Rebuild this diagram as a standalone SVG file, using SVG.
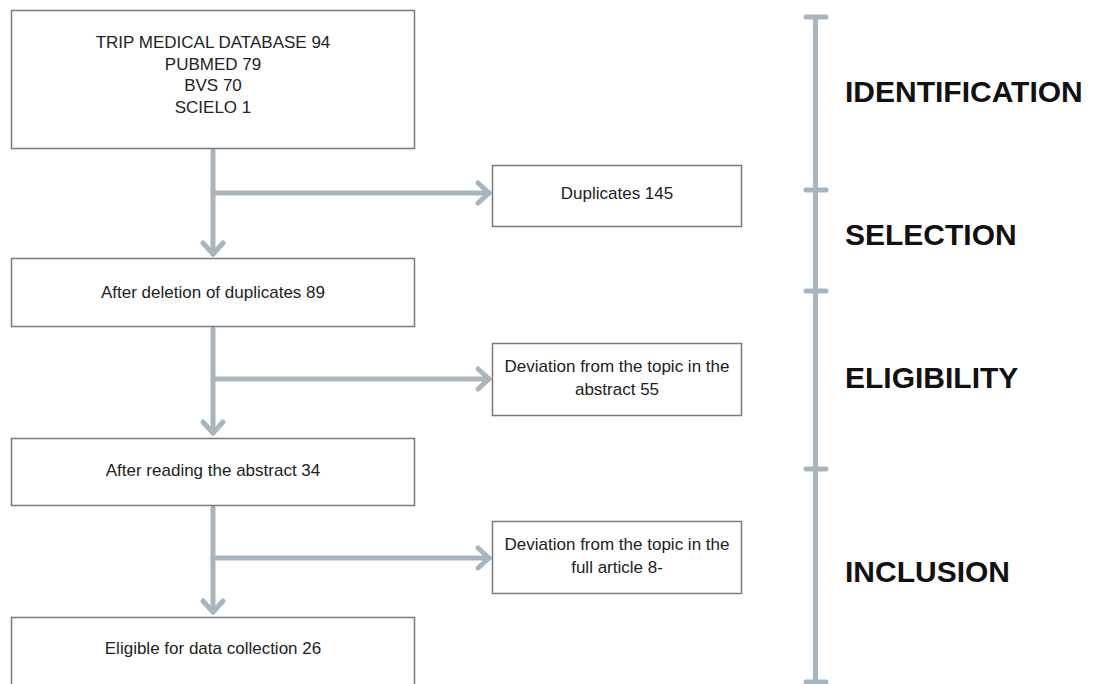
<svg xmlns="http://www.w3.org/2000/svg" width="1097" height="684" viewBox="0 0 1097 684">
<style>
.box{fill:#fff;stroke:#7a7a7a;stroke-width:1.5}
.t{font-family:"Liberation Sans",Arial,sans-serif;font-size:17px;fill:#222;text-anchor:middle}
.phase{font-family:"Liberation Sans",Arial,sans-serif;font-size:30px;font-weight:bold;fill:#111}
.con{fill:none;stroke:#a9b5be;stroke-width:5;stroke-linecap:round}
.bar{fill:none;stroke:#a9b5be;stroke-width:5;stroke-linecap:round}
</style>
<defs>
<marker id="arr" markerUnits="userSpaceOnUse" viewBox="-14 -13 16 26" refX="0" refY="0" markerWidth="16" markerHeight="26" orient="auto" overflow="visible">
<path d="M-11,-10 L0,0 L-11,10" fill="none" stroke="#a9b5be" stroke-width="5" stroke-linecap="round" stroke-linejoin="round"/>
</marker>
</defs>
<rect width="1097" height="684" fill="#fff"/>
<g id="connectors">
<path class="con" d="M213,151 L213,254" marker-end="url(#arr)"/>
<path class="con" d="M213,193 L489,193" marker-end="url(#arr)"/>
<path class="con" d="M213,329 L213,433" marker-end="url(#arr)"/>
<path class="con" d="M213,379 L489,379" marker-end="url(#arr)"/>
<path class="con" d="M213,508 L213,612" marker-end="url(#arr)"/>
<path class="con" d="M213,558 L489,558" marker-end="url(#arr)"/>
</g>
<g id="n1">
<rect class="box" x="11.5" y="10.5" width="403" height="138"/>
<text class="t" x="213" y="48">TRIP MEDICAL DATABASE 94</text>
<text class="t" x="213" y="69.5">PUBMED 79</text>
<text class="t" x="213" y="91">BVS 70</text>
<text class="t" x="213" y="112.5">SCIELO 1</text>
</g>
<g id="n2">
<rect class="box" x="492.5" y="165.5" width="249" height="61"/>
<text class="t" x="617" y="199">Duplicates 145</text>
</g>
<g id="n3">
<rect class="box" x="11.5" y="258.5" width="403" height="68"/>
<text class="t" x="213" y="298">After deletion of duplicates 89</text>
</g>
<g id="n4">
<rect class="box" x="492.5" y="343.5" width="249" height="72"/>
<text class="t" x="617" y="372">Deviation from the topic in the</text>
<text class="t" x="617" y="395">abstract 55</text>
</g>
<g id="n5">
<rect class="box" x="11.5" y="438.5" width="403" height="67"/>
<text class="t" x="213" y="476">After reading the abstract 34</text>
</g>
<g id="n6">
<rect class="box" x="492.5" y="521.5" width="249" height="72"/>
<text class="t" x="617" y="550">Deviation from the topic in the</text>
<text class="t" x="617" y="573">full article 8-</text>
</g>
<g id="n7">
<rect class="box" x="11.5" y="617.5" width="403" height="80"/>
<text class="t" x="213" y="654">Eligible for data collection 26</text>
</g>
<g id="phases">
<path class="bar" d="M815.5,17 L815.5,682"/>
<path class="bar" d="M806,17 L826,17 M806,190 L826,190 M806,291 L826,291 M806,469 L826,469 M806,682 L826,682"/>
<text class="phase" x="845" y="102">IDENTIFICATION</text>
<text class="phase" x="845" y="245">SELECTION</text>
<text class="phase" x="845" y="388">ELIGIBILITY</text>
<text class="phase" x="845" y="582">INCLUSION</text>
</g>
</svg>
